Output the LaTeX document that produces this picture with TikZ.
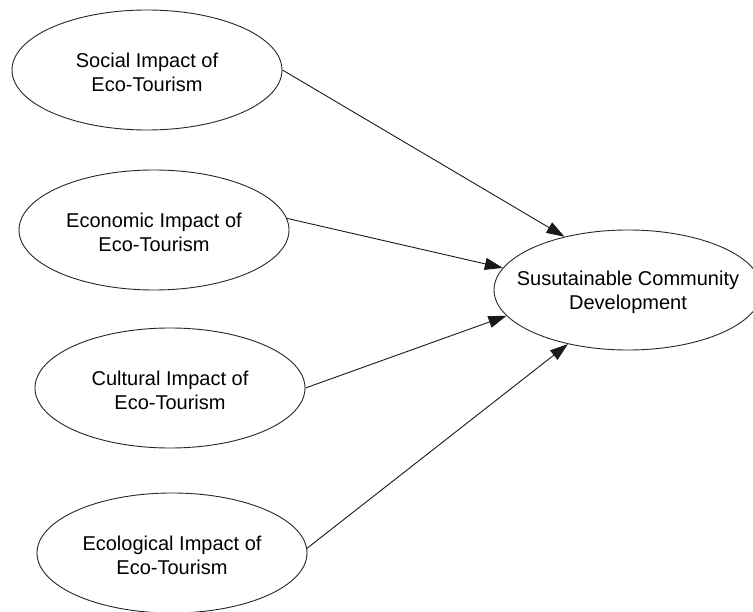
\documentclass[tikz,border=0pt]{standalone}
\usepackage{fontspec}
\setmainfont{Liberation Sans}
\usetikzlibrary{shapes.geometric,arrows.meta}
\tikzset{
  oval/.style={ellipse, draw=black!85, line width=0.9pt, minimum width=270pt, minimum height=120pt, inner sep=0pt},
  txt/.style={align=center, font=\fontsize{20pt}{24pt}\selectfont, inner sep=0pt, text=black},
  link/.style={draw=black!90, line width=0.9pt, -{Triangle[length=18pt,width=12pt]}}
}
\begin{document}
\begin{tikzpicture}[x=1pt,y=-1pt]
\useasboundingbox (0,0) rectangle (753,612);
\node[oval] (soc) at (147,70) {};
\node[txt] (soct) at (147,72) {Social Impact of\\Eco-Tourism};
\node[oval] (eco) at (154,230) {};
\node[txt] (ecot) at (154,232) {Economic Impact of\\Eco-Tourism};
\node[oval] (cul) at (170,388) {};
\node[txt] (cult) at (170,390) {Cultural Impact of\\Eco-Tourism};
\node[oval] (ecl) at (172,553) {};
\node[txt] (eclt) at (172,555) {Ecological Impact of\\Eco-Tourism};
\node[oval, minimum width=268pt] (sus) at (628,290) {};
\node[txt] (sust) at (628,292) {Susutainable Community\\Development};
\draw[link] (soc.east) -- (sus.140);
\draw[link] (eco.5) -- (sus.170);
\draw[link] (cul.east) -- (sus.192);
\draw[link] (ecl.2) -- (sus.222);
\end{tikzpicture}
\end{document}
